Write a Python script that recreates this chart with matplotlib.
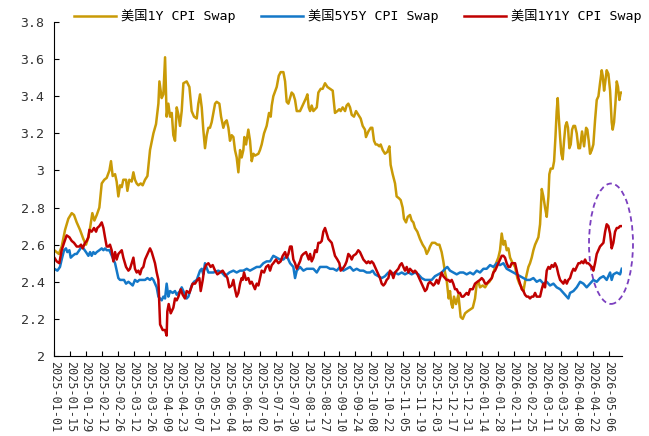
import matplotlib
matplotlib.use("Agg")
import matplotlib.pyplot as plt
import matplotlib.dates as mdates
from matplotlib.patches import Ellipse
import numpy as np
import datetime as dt

# days counted from 2025-01-01
start = dt.date(2025, 1, 1)

gold_day = [
    0, 4, 6.5, 9.5, 12.4, 15.4, 17.4, 19.8, 22.7, 25.7,
    28.0, 30.1, 31.6, 33.6, 35.4, 37.5, 39.8, 41.9, 44.2, 46.3,
    48.7, 50.1, 51.6, 53.7, 55.1, 56.6, 58.1, 59.6, 61.0, 63.4,
    64.6, 66.3, 68.4, 69.9, 71.3, 72.8, 74.3, 76.4, 78.1, 80.2,
    82.3, 84.6, 87.6, 89.9, 92.0, 92.9, 94.9, 96.4, 97.9, 99.3,
    100.8, 102.3, 103.8, 105.2, 106.7, 108.2, 109.7, 111.1, 112.6, 114.1,
    117.0, 119.4, 121.4, 123.5, 125.9, 127.3, 128.8, 130.3, 131.7, 133.2,
    134.7, 136.2, 137.6, 139.1, 140.6, 142.1, 143.5, 145.9, 147.4, 149.4,
    150.9, 152.4, 153.9, 155.3, 156.8, 158.3, 159.7, 161.2, 162.7, 164.2,
    165.6, 167.1, 168.0, 169.5, 171.5, 173.0, 174.5, 176.0, 177.4, 180.4,
    181.8, 183.3, 185.4, 187.7, 189.8, 191.3, 192.2, 193.6, 195.4, 196.6,
    198.4, 200.1, 202.5, 204.0, 205.4, 206.9, 208.4, 209.8, 211.3, 212.8,
    214.3, 217.2, 220.2, 222.5, 223.7, 224.9, 226.1, 227.5, 229.0, 230.5,
    232.0, 233.4, 235.5, 237.2, 239.3, 241.4, 243.7, 246.1, 248.1, 250.2,
    251.9, 253.1, 254.9, 257.0, 258.4, 259.9, 261.4, 262.9, 264.9, 266.7,
    268.7, 270.8, 272.6, 274.6, 275.5, 277.6, 279.7, 281.1, 282.6, 284.1,
    285.5, 287.3, 288.5, 290.3, 292.3, 294.4, 296.2, 297.3, 299.1, 301.2,
    302.6, 304.7, 306.2, 307.9, 309.1, 310.9, 312.4, 314.4, 315.9, 317.4,
    318.8, 320.9, 323.3, 325.6, 327.7, 329.2, 330.9, 332.1, 333.9, 336.5,
    338.6, 340.4, 342.4, 343.9, 345.4, 346.8, 348.6, 349.8, 351.0, 352.1,
    353.3, 355.1, 357.2, 359.2, 361.0, 363.1, 365.1, 367.5, 369.9, 371.9,
    373.4, 374.9, 376.3, 378.7, 380.8, 382.8, 384.6, 386.7, 388.7, 390.5,
    392.5, 394.0, 395.5, 397.0, 398.4, 399.9, 401.4, 402.9, 405.2, 407.3,
    409.3, 411.1, 413.2, 414.7, 416.1, 417.6, 419.1, 420.5, 422.0, 423.5,
    425.0, 426.4, 427.9, 429.4, 430.9, 432.3, 433.8, 435.3, 436.8, 437.6,
    438.8, 440.6, 441.8, 443.0, 444.1, 445.0, 445.9, 447.1, 448.2, 449.4,
    450.6, 451.8, 453.0, 454.1, 455.3, 456.5, 457.7, 458.9, 460.3, 461.8,
    463.3, 464.7, 466.5, 468.3, 470.1, 471.2, 472.4, 473.6, 475.1, 476.5,
    478.0, 479.5, 481.0, 482.4, 483.9, 484.8, 486.0, 486.9, 488.3, 489.8,
    491.3, 492.7, 493.6, 494.8, 496.0, 497.2, 498.3, 499.5, 500.7, 501.6,
]
gold_val = [
    2.57, 2.55, 2.59, 2.68, 2.74, 2.77, 2.76, 2.72, 2.68, 2.63,
    2.60, 2.64, 2.69, 2.77, 2.73, 2.76, 2.80, 2.93, 2.95, 2.96,
    3.00, 3.05, 2.97, 2.98, 2.94, 2.86, 2.92, 2.91, 2.95, 2.95,
    2.89, 2.95, 2.94, 2.99, 2.95, 2.93, 2.92, 2.93, 2.92, 2.95,
    2.97, 3.11, 3.20, 3.25, 3.36, 3.48, 3.39, 3.41, 3.61, 3.29,
    3.36, 3.29, 3.31, 3.19, 3.16, 3.34, 3.30, 3.24, 3.32, 3.47,
    3.48, 3.45, 3.32, 3.29, 3.28, 3.36, 3.41, 3.34, 3.22, 3.12,
    3.19, 3.23, 3.23, 3.26, 3.31, 3.36, 3.37, 3.36, 3.29, 3.23,
    3.26, 3.27, 3.23, 3.16, 3.19, 3.18, 3.11, 3.07, 2.99, 3.11,
    3.07, 3.11, 3.18, 3.14, 3.22, 3.16, 3.05, 3.09, 3.08, 3.09,
    3.11, 3.14, 3.20, 3.24, 3.31, 3.29, 3.35, 3.40, 3.43, 3.45,
    3.51, 3.53, 3.53, 3.48, 3.37, 3.36, 3.39, 3.42, 3.41, 3.38,
    3.32, 3.32, 3.36, 3.39, 3.41, 3.34, 3.32, 3.35, 3.32, 3.33,
    3.34, 3.42, 3.44, 3.44, 3.47, 3.45, 3.44, 3.43, 3.31, 3.32,
    3.33, 3.32, 3.34, 3.32, 3.35, 3.36, 3.34, 3.30, 3.29, 3.32,
    3.30, 3.28, 3.24, 3.22, 3.18, 3.21, 3.23, 3.23, 3.16, 3.14,
    3.14, 3.13, 3.14, 3.11, 3.09, 3.10, 3.13, 3.03, 2.98, 2.93,
    2.86, 2.85, 2.84, 2.80, 2.74, 2.72, 2.75, 2.76, 2.73, 2.72,
    2.69, 2.67, 2.63, 2.60, 2.58, 2.55, 2.57, 2.59, 2.61, 2.61,
    2.60, 2.60, 2.56, 2.51, 2.45, 2.41, 2.31, 2.35, 2.28, 2.26,
    2.32, 2.28, 2.33, 2.21, 2.20, 2.23, 2.24, 2.25, 2.26, 2.31,
    2.39, 2.40, 2.37, 2.38, 2.37, 2.39, 2.40, 2.42, 2.46, 2.50,
    2.53, 2.57, 2.66, 2.60, 2.62, 2.57, 2.58, 2.53, 2.50, 2.48,
    2.42, 2.39, 2.37, 2.35, 2.40, 2.44, 2.48, 2.50, 2.53, 2.57,
    2.60, 2.62, 2.64, 2.71, 2.90, 2.86, 2.80, 2.75, 2.86, 2.98,
    3.01, 3.01, 3.05, 3.18, 3.32, 3.39, 3.29, 3.18, 3.09, 3.06,
    3.16, 3.24, 3.26, 3.23, 3.12, 3.14, 3.22, 3.24, 3.24, 3.20,
    3.12, 3.12, 3.21, 3.13, 3.23, 3.22, 3.16, 3.09, 3.11, 3.14,
    3.27, 3.38, 3.40, 3.47, 3.54, 3.51, 3.43, 3.47, 3.54, 3.52,
    3.43, 3.26, 3.22, 3.26, 3.36, 3.48, 3.45, 3.38, 3.42, 3.42,
]

blue_day = [
    0, 2.7, 5.0, 6.5, 8.6, 10.3, 11.5, 13.3, 14.5, 16.2,
    18.3, 19.8, 22.1, 24.2, 25.7, 28.0, 30.1, 31.6, 33.0, 34.5,
    36.0, 37.5, 39.8, 41.9, 43.4, 44.8, 46.3, 48.7, 50.1, 52.2,
    53.7, 55.1, 56.6, 58.1, 59.6, 61.6, 63.4, 65.5, 67.5, 69.3,
    71.3, 73.4, 75.2, 76.4, 78.1, 80.2, 82.3, 84.6, 86.1, 87.6,
    89.0, 90.5, 92.0, 93.5, 94.9, 96.4, 97.9, 99.3, 100.8, 102.3,
    104.6, 106.7, 108.2, 109.7, 111.1, 112.6, 114.1, 115.5, 117.0, 118.5,
    120.0, 121.4, 123.5, 125.9, 128.8, 130.3, 131.7, 133.2, 136.2, 140.6,
    145.0, 148.0, 150.9, 154.7, 158.3, 161.2, 164.2, 167.1, 170.1, 173.0,
    176.0, 178.9, 181.8, 184.8, 187.7, 190.7, 193.6, 196.6, 199.5, 202.5,
    205.4, 208.4, 211.3, 212.8, 214.3, 217.2, 220.2, 223.1, 226.1, 229.0,
    232.0, 234.9, 237.8, 240.8, 243.7, 246.6, 249.6, 252.5, 255.5, 258.4,
    261.4, 264.3, 267.3, 270.2, 273.2, 276.1, 279.1, 281.4, 283.5, 286.4,
    289.4, 292.3, 295.3, 298.2, 301.2, 304.1, 307.1, 310.0, 313.0, 315.9,
    318.8, 321.8, 324.7, 327.7, 330.6, 333.6, 336.5, 339.5, 342.4, 345.4,
    347.4, 349.8, 352.7, 355.7, 358.6, 361.6, 364.5, 367.5, 370.4, 373.4,
    376.3, 379.3, 382.2, 385.2, 388.1, 391.1, 394.0, 397.0, 399.9, 402.9,
    405.8, 408.8, 411.7, 414.7, 417.6, 420.5, 423.5, 426.4, 429.4, 432.3,
    435.3, 438.2, 441.2, 444.1, 447.1, 450.0, 453.0, 454.4, 455.9, 458.9,
    461.8, 464.8, 467.7, 470.6, 473.6, 476.5, 479.5, 482.4, 485.4, 488.3,
    491.3, 492.7, 494.2, 497.2, 500.1, 501.6,
]
blue_val = [
    2.47, 2.46, 2.48, 2.52, 2.57, 2.58, 2.56, 2.57, 2.53, 2.54,
    2.55, 2.55, 2.57, 2.59, 2.58, 2.56, 2.54, 2.56, 2.54, 2.56,
    2.55, 2.56, 2.57, 2.58, 2.57, 2.58, 2.57, 2.57, 2.55, 2.52,
    2.50, 2.46, 2.42, 2.41, 2.41, 2.41, 2.39, 2.40, 2.39, 2.38,
    2.41, 2.40, 2.41, 2.41, 2.41, 2.41, 2.42, 2.41, 2.42, 2.41,
    2.39, 2.37, 2.32, 2.31, 2.30, 2.32, 2.31, 2.39, 2.32, 2.35,
    2.34, 2.35, 2.33, 2.34, 2.35, 2.37, 2.35, 2.33, 2.31, 2.32,
    2.35, 2.38, 2.40, 2.41, 2.46, 2.47, 2.44, 2.50, 2.45, 2.45,
    2.46, 2.45, 2.43, 2.45, 2.46, 2.45, 2.46, 2.46, 2.47, 2.46,
    2.47, 2.48, 2.48, 2.50, 2.51, 2.51, 2.54, 2.53, 2.52, 2.52,
    2.54, 2.50, 2.48, 2.42, 2.46, 2.48, 2.46, 2.47, 2.47, 2.47,
    2.45, 2.48, 2.48, 2.48, 2.47, 2.47, 2.46, 2.48, 2.46, 2.47,
    2.48, 2.46, 2.47, 2.46, 2.46, 2.45, 2.45, 2.46, 2.44, 2.43,
    2.42, 2.43, 2.45, 2.44, 2.45, 2.44, 2.45, 2.44, 2.45, 2.44,
    2.45, 2.44, 2.42, 2.41, 2.41, 2.41, 2.43, 2.44, 2.45, 2.47,
    2.48, 2.46, 2.45, 2.44, 2.45, 2.45, 2.44, 2.45, 2.44, 2.46,
    2.45, 2.47, 2.47, 2.49, 2.48, 2.50, 2.49, 2.50, 2.47, 2.46,
    2.45, 2.44, 2.43, 2.42, 2.41, 2.41, 2.42, 2.40, 2.41, 2.39,
    2.40, 2.38, 2.39, 2.37, 2.36, 2.34, 2.32, 2.31, 2.34, 2.35,
    2.37, 2.40, 2.39, 2.37, 2.39, 2.41, 2.40, 2.42, 2.43, 2.41,
    2.45, 2.41, 2.44, 2.45, 2.44, 2.47,
]

red_day = [
    0, 2.1, 4.4, 6.5, 8.6, 10.9, 13.3, 15.4, 17.4, 19.8,
    22.1, 23.6, 25.1, 27.1, 28.6, 30.1, 31.0, 33.0, 35.1, 36.9,
    38.0, 39.8, 41.9, 43.4, 44.8, 46.3, 47.8, 49.2, 50.7, 52.2,
    53.7, 55.1, 56.6, 58.1, 59.6, 61.0, 63.4, 65.5, 66.9, 68.4,
    69.9, 71.3, 72.8, 74.3, 75.8, 77.2, 78.7, 80.2, 81.7, 83.1,
    84.6, 86.1, 87.6, 89.0, 90.5, 92.0, 93.5, 95.8, 97.9, 99.3,
    99.9, 101.1, 102.9, 105.2, 106.7, 108.2, 109.7, 111.7, 113.5, 115.5,
    117.0, 119.4, 122.3, 124.4, 126.4, 128.2, 129.4, 131.2, 132.3, 134.1,
    136.2, 138.2, 140.0, 142.1, 144.1, 146.5, 148.8, 150.9, 153.0, 154.7,
    156.8, 158.3, 159.7, 161.2, 162.7, 164.2, 165.6, 166.5, 167.7, 169.5,
    171.5, 173.0, 174.5, 176.0, 177.4, 178.9, 180.4, 181.8, 183.3, 185.4,
    187.2, 189.2, 190.7, 192.2, 193.6, 196.0, 198.1, 200.1, 201.9, 204.0,
    205.4, 206.9, 208.4, 209.8, 211.3, 212.8, 214.3, 215.7, 217.2, 218.7,
    220.2, 222.5, 223.7, 224.9, 226.1, 227.5, 229.0, 230.5, 232.0, 233.4,
    234.9, 236.4, 237.8, 239.3, 240.8, 242.3, 243.7, 245.2, 248.1, 250.2,
    252.0, 253.1, 254.9, 257.0, 258.4, 259.9, 261.4, 262.9, 264.3, 266.7,
    268.7, 270.2, 271.7, 273.2, 274.6, 276.1, 277.6, 279.1, 280.5, 282.0,
    283.5, 285.0, 286.4, 287.9, 289.4, 290.9, 292.3, 293.8, 295.3, 296.7,
    298.2, 299.7, 301.2, 302.6, 304.1, 305.6, 307.1, 308.5, 310.0, 311.5,
    313.0, 314.4, 315.9, 317.4, 318.8, 320.3, 321.8, 323.3, 324.7, 326.2,
    327.7, 329.2, 330.6, 332.1, 333.6, 335.1, 336.5, 338.0, 339.5, 341.0,
    342.4, 343.9, 345.4, 346.8, 348.3, 349.8, 351.3, 352.7, 354.2, 355.7,
    357.2, 358.6, 360.1, 361.6, 363.1, 364.5, 366.0, 367.5, 369.9, 371.9,
    374.0, 376.3, 377.8, 379.3, 380.8, 382.2, 383.7, 385.2, 386.7, 388.1,
    389.6, 391.1, 392.5, 394.0, 395.5, 397.0, 398.4, 399.9, 401.4, 402.9,
    404.3, 405.8, 407.3, 408.8, 410.2, 411.7, 413.2, 414.7, 416.1, 417.6,
    419.1, 420.5, 422.0, 423.5, 425.0, 426.4, 427.9, 429.4, 430.9, 432.3,
    433.8, 435.3, 436.8, 438.2, 439.7, 441.2, 442.6, 444.1, 445.6, 447.1,
    448.5, 450.0, 451.5, 453.0, 454.4, 455.9, 457.4, 458.9, 460.3, 461.8,
    463.3, 464.8, 466.2, 467.7, 469.2, 470.6, 472.1, 473.6, 475.1, 476.5,
    478.0, 479.5, 481.0, 482.4, 483.9, 485.4, 486.9, 488.3, 489.8, 491.3,
    492.7, 494.2, 495.7, 497.2, 498.6, 500.1, 501.6,
]
red_val = [
    2.53, 2.51, 2.50, 2.57, 2.61, 2.65, 2.64, 2.62, 2.61, 2.59,
    2.59, 2.60, 2.58, 2.61, 2.62, 2.64, 2.68, 2.67, 2.69, 2.67,
    2.69, 2.70, 2.72, 2.69, 2.64, 2.59, 2.59, 2.60, 2.57, 2.51,
    2.56, 2.52, 2.55, 2.56, 2.57, 2.53, 2.48, 2.46, 2.47, 2.50,
    2.53, 2.47, 2.45, 2.46, 2.44, 2.47, 2.48, 2.52, 2.54, 2.56,
    2.58, 2.56, 2.53, 2.50, 2.45, 2.41, 2.17, 2.14, 2.14, 2.11,
    2.24, 2.28, 2.23, 2.26, 2.31, 2.30, 2.32, 2.36, 2.33, 2.31,
    2.35, 2.34, 2.39, 2.39, 2.41, 2.42, 2.35, 2.41, 2.46, 2.49,
    2.50, 2.48, 2.49, 2.46, 2.44, 2.45, 2.46, 2.44, 2.42, 2.37,
    2.38, 2.41, 2.36, 2.32, 2.34, 2.39, 2.42, 2.41, 2.45, 2.41,
    2.42, 2.39, 2.40, 2.38, 2.36, 2.39, 2.38, 2.42, 2.46, 2.45,
    2.48, 2.49, 2.46, 2.49, 2.50, 2.52, 2.50, 2.51, 2.54, 2.56,
    2.53, 2.55, 2.59, 2.59, 2.52, 2.50, 2.47, 2.49, 2.51, 2.54,
    2.55, 2.56, 2.54, 2.52, 2.55, 2.51, 2.53, 2.57, 2.56, 2.61,
    2.61, 2.62, 2.67, 2.69, 2.66, 2.63, 2.62, 2.61, 2.54, 2.52,
    2.50, 2.46, 2.47, 2.49, 2.51, 2.55, 2.54, 2.52, 2.54, 2.55,
    2.57, 2.56, 2.54, 2.52, 2.51, 2.50, 2.51, 2.50, 2.51, 2.50,
    2.48, 2.46, 2.44, 2.42, 2.39, 2.38, 2.39, 2.41, 2.42, 2.46,
    2.45, 2.42, 2.45, 2.46, 2.47, 2.49, 2.50, 2.48, 2.46, 2.48,
    2.45, 2.47, 2.46, 2.45, 2.46, 2.45, 2.43, 2.41, 2.39, 2.37,
    2.35, 2.36, 2.39, 2.40, 2.39, 2.38, 2.39, 2.41, 2.39, 2.42,
    2.45, 2.43, 2.42, 2.41, 2.41, 2.40, 2.41, 2.39, 2.36, 2.36,
    2.34, 2.34, 2.32, 2.32, 2.33, 2.34, 2.33, 2.36, 2.36, 2.39,
    2.40, 2.41, 2.42, 2.41, 2.39, 2.39, 2.40, 2.41, 2.42, 2.45,
    2.46, 2.48, 2.50, 2.52, 2.54, 2.54, 2.53, 2.50, 2.48, 2.48,
    2.50, 2.50, 2.50, 2.46, 2.42, 2.39, 2.36, 2.35, 2.33, 2.32,
    2.32, 2.31, 2.32, 2.32, 2.34, 2.32, 2.32, 2.32, 2.36, 2.39,
    2.37, 2.46, 2.48, 2.47, 2.49, 2.48, 2.50, 2.48, 2.44, 2.41,
    2.40, 2.39, 2.41, 2.39, 2.41, 2.42, 2.45, 2.47, 2.46, 2.48,
    2.50, 2.50, 2.51, 2.50, 2.52, 2.50, 2.50, 2.49, 2.48, 2.46,
    2.50, 2.55, 2.57, 2.59, 2.60, 2.61, 2.67, 2.71, 2.70, 2.66,
    2.58, 2.61, 2.67, 2.69, 2.69, 2.70, 2.70,
]

labels = ["美国1Y CPI Swap", "美国5Y5Y CPI Swap", "美国1Y1Y CPI Swap"]
colors = ["#C99A06", "#1478C8", "#C00000"]

mono_cjk = ["DejaVu Sans Mono", "Noto Sans CJK SC"]

t0 = mdates.date2num(start)

fig = plt.figure(figsize=(6.49, 4.36), dpi=100)
ax = fig.add_axes([0.0837, 0.1835, 0.8743, 0.766])

for d, v, c, lab in zip([gold_day, blue_day, red_day],
                        [gold_val, blue_val, red_val], colors, labels):
    ax.plot(t0 + np.array(d), v, color=c, lw=1.8, label=lab)

# dashed ring around the latest 1Y1Y move
ax.add_patch(Ellipse((t0 + 492.1, 2.605), 38.9, 0.649, fill=False,
                     ls=(0, (3, 2)), lw=1.3, ec="#7B3FBF", clip_on=False))

ax.set_xlim(t0, t0 + 501.6)
ax.set_ylim(2, 3.8)
ax.set_xticks(t0 + np.arange(0, 491, 14))
ax.xaxis.set_major_formatter(mdates.DateFormatter("%Y-%m-%d"))
ax.set_yticks(np.arange(2, 3.81, 0.2))
ax.yaxis.set_major_formatter(plt.FuncFormatter(lambda v, p: f"{v:g}"))

for s in ["top", "right"]:
    ax.spines[s].set_visible(False)
ax.tick_params(direction="in", length=3.5, width=0.8, labelsize=8.5)
ax.tick_params(axis="y", labelsize=9.5, pad=7)
for t in ax.get_xticklabels():
    t.set_rotation(270)
    t.set_family("DejaVu Sans Mono")
    t.set_color("#333333")
for t in ax.get_yticklabels():
    t.set_family("DejaVu Sans Mono")
    t.set_color("#333333")

ax.legend(loc="center", bbox_to_anchor=(0.551, 0.963), bbox_transform=fig.transFigure,
          ncol=3, frameon=False, handlelength=3.2, handletextpad=0.4,
          columnspacing=1.9, prop={"family": mono_cjk, "size": 9.5})

fig.savefig("out.png", dpi=100)
